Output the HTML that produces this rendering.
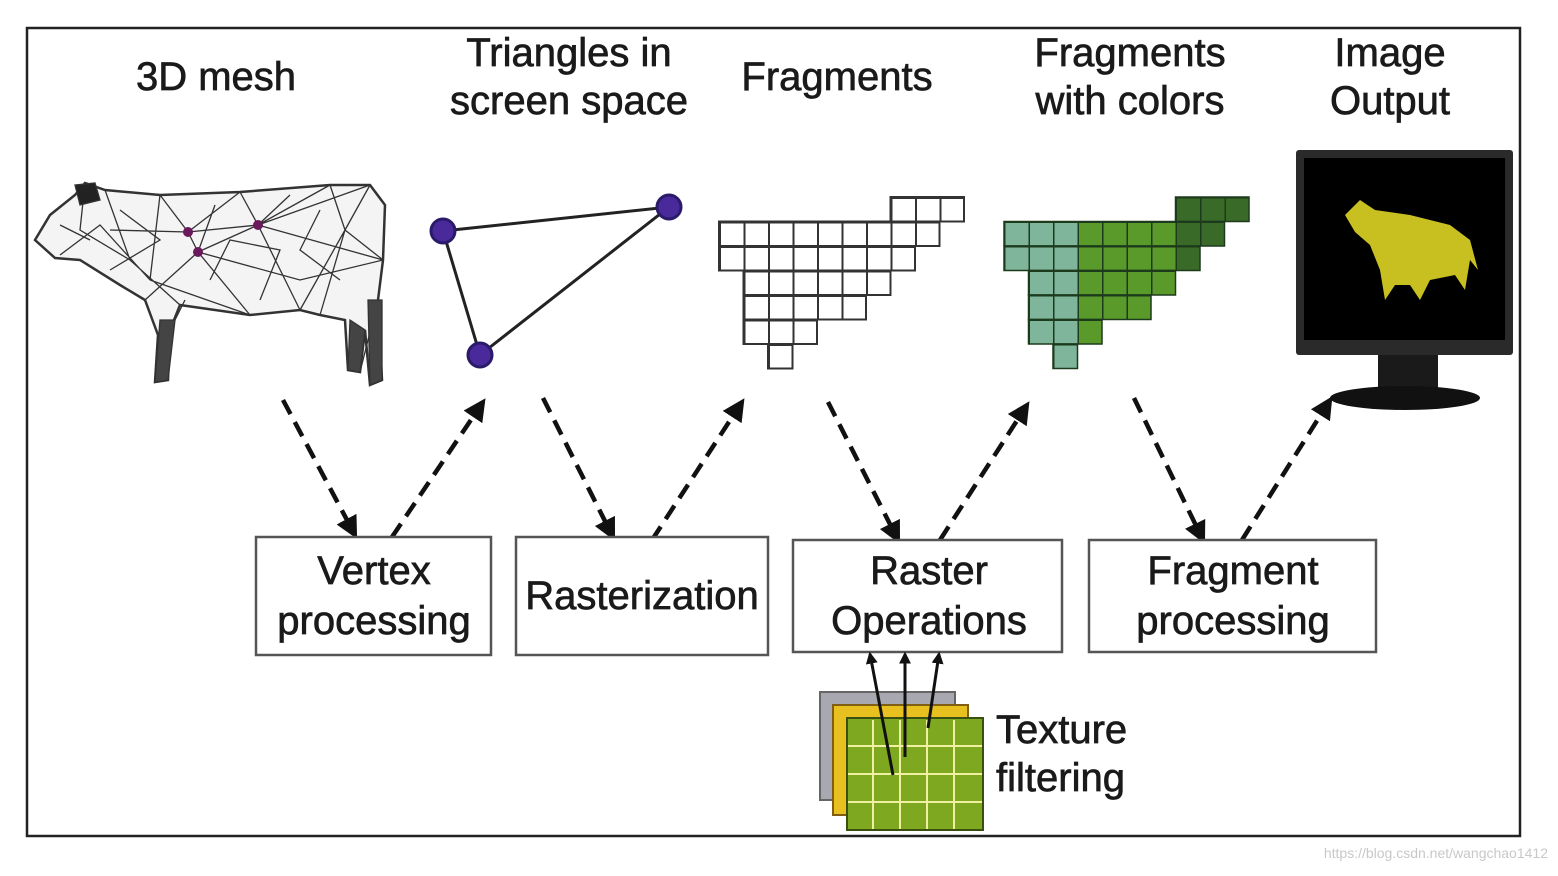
<!DOCTYPE html>
<html><head><meta charset="utf-8"><style>
html,body{margin:0;padding:0;background:#fff;}
body{width:1558px;height:871px;overflow:hidden;position:relative;font-family:"Liberation Sans",Arial,sans-serif;}
</style></head><body>
<svg width="1558" height="871" viewBox="0 0 1558 871" xmlns="http://www.w3.org/2000/svg" font-family="Liberation Sans, Arial, sans-serif">
<defs>
<marker id="ah" viewBox="0 0 10 10" refX="8" refY="5" markerWidth="5" markerHeight="5" orient="auto"><path d="M0,0 L10,5 L0,10 z" fill="#111"/></marker>
<marker id="ah2" viewBox="0 0 10 10" refX="8" refY="5" markerWidth="4" markerHeight="4" orient="auto"><path d="M0,0 L10,5 L0,10 z" fill="#111"/></marker>
<pattern id="gw" patternUnits="userSpaceOnUse" x="719" y="197" width="24.5" height="24.5"><path d="M0,0 H24.5 M0,0 V24.5" stroke="#333" stroke-width="4" fill="none"/></pattern>
<pattern id="gc" patternUnits="userSpaceOnUse" x="1004" y="197" width="24.5" height="24.5"><path d="M0,0 H24.5 M0,0 V24.5" stroke="#1d3a1d" stroke-width="3" fill="none"/></pattern>
</defs>
<rect x="27" y="28" width="1493" height="808" fill="none" stroke="#222" stroke-width="2.5"/>
<g font-size="40" fill="#1a1a1a" text-anchor="middle" stroke="#1a1a1a" stroke-width="0.7">
<text x="216" y="90">3D mesh</text>
<text x="569" y="66">Triangles in</text>
<text x="569" y="114">screen space</text>
<text x="837" y="90">Fragments</text>
<text x="1130" y="66">Fragments</text>
<text x="1130" y="114">with colors</text>
<text x="1390" y="66">Image</text>
<text x="1390" y="114">Output</text>
</g>
<!-- cow -->
<g stroke="#333" fill="none" stroke-width="1.3">
<path d="M35,240 L50,215 L75,195 L85,183 L105,190 L160,195 L240,192 L330,185 L370,185 L385,205 L383,260 L378,300 L382,380 L370,385 L365,330 L360,372 L348,370 L345,320 L320,315 L300,310 L250,315 L180,305 L170,330 L168,380 L155,382 L158,335 L145,300 L120,285 L80,260 L55,258 Z" fill="#f4f4f4" stroke-width="2.5"/>
<path d="M105,190 L130,260 L180,305 M160,195 L150,280 M240,192 L188,232 L258,225 L330,185 M188,232 L198,252 L258,225 L300,310 M198,252 L250,315 M258,225 L370,185 M258,225 L383,260 M198,252 L145,300 M188,232 L110,230 M188,232 L160,195 M240,192 L258,225 M300,310 L345,230 L370,185 M345,230 L383,260 M345,230 L320,315 M198,252 L300,280 L383,260 M130,260 L80,230 L85,183 M60,255 L100,225 L150,280 M215,205 L198,252 M290,195 L258,225 M150,280 L250,315 M330,185 L345,230 M170,330 L185,300 M360,372 L378,300 M120,210 L160,240 L110,270 M210,280 L230,240 L280,250 L260,300 M320,210 L300,250 L340,280 M60,225 L90,240"/>
<path d="M75,185 L95,183 L100,200 L80,205 Z" fill="#222"/>
<path d="M155,382 L160,320 L175,320 L168,380 Z M348,370 L350,320 L365,330 L360,372 Z M370,385 L368,300 L382,300 L382,380 Z" fill="#444"/>
</g>
<circle cx="188" cy="232" r="5" fill="#6a1a5a"/><circle cx="198" cy="252" r="5" fill="#6a1a5a"/><circle cx="258" cy="225" r="5" fill="#6a1a5a"/>
<!-- triangle -->
<g stroke="#222" stroke-width="3" fill="none"><path d="M443,231 L669,207 L480,355 Z"/></g>
<g fill="#4a2a9a" stroke="#2a1a6a" stroke-width="3"><circle cx="443" cy="231" r="12"/><circle cx="669" cy="207" r="12"/><circle cx="480" cy="355" r="12"/></g>
<!-- fragments white -->
<g fill="url(#gw)" stroke="#333" stroke-width="2">
<rect x="890.5" y="197" width="73.5" height="24.5"/>
<rect x="719" y="221.5" width="220.5" height="24.5"/>
<rect x="719" y="246" width="196" height="24.5"/>
<rect x="743.5" y="270.5" width="147" height="24.5"/>
<rect x="743.5" y="295" width="122.5" height="24.5"/>
<rect x="743.5" y="319.5" width="73.5" height="24.5"/>
<rect x="768" y="344" width="24.5" height="24.5"/>
</g>
<!-- fragments colored -->
<g stroke="none">
<rect x="1175.5" y="197" width="73.5" height="24.5" fill="#3a6a28"/>
<rect x="1004" y="221.5" width="73.5" height="24.5" fill="#7fb59a"/><rect x="1077.5" y="221.5" width="98" height="24.5" fill="#5a9a2a"/><rect x="1175.5" y="221.5" width="49" height="24.5" fill="#3a6a28"/>
<rect x="1004" y="246" width="73.5" height="24.5" fill="#7fb59a"/><rect x="1077.5" y="246" width="98" height="24.5" fill="#5a9a2a"/><rect x="1175.5" y="246" width="24.5" height="24.5" fill="#3a6a28"/>
<rect x="1028.5" y="270.5" width="49" height="24.5" fill="#7fb59a"/><rect x="1077.5" y="270.5" width="98" height="24.5" fill="#5a9a2a"/>
<rect x="1028.5" y="295" width="49" height="24.5" fill="#7fb59a"/><rect x="1077.5" y="295" width="73.5" height="24.5" fill="#5a9a2a"/>
<rect x="1028.5" y="319.5" width="49" height="24.5" fill="#7fb59a"/><rect x="1077.5" y="319.5" width="24.5" height="24.5" fill="#5a9a2a"/>
<rect x="1053" y="344" width="24.5" height="24.5" fill="#7fb59a"/>
</g>
<g fill="url(#gc)" stroke="#1d3a1d" stroke-width="1.5">
<rect x="1175.5" y="197" width="73.5" height="24.5"/>
<rect x="1004" y="221.5" width="220.5" height="24.5"/>
<rect x="1004" y="246" width="196" height="24.5"/>
<rect x="1028.5" y="270.5" width="147" height="24.5"/>
<rect x="1028.5" y="295" width="122.5" height="24.5"/>
<rect x="1028.5" y="319.5" width="73.5" height="24.5"/>
<rect x="1053" y="344" width="24.5" height="24.5"/>
</g>
<!-- monitor -->
<rect x="1296" y="150" width="217" height="205" fill="#2a2a2a" rx="3"/>
<rect x="1304" y="158" width="201" height="182" fill="#000"/>
<path d="M1345,215 L1360,200 L1375,210 L1410,215 L1450,225 L1470,240 L1478,270 L1470,260 L1465,290 L1455,275 L1430,280 L1420,300 L1410,285 L1395,285 L1385,300 L1380,270 L1370,245 L1355,232 Z" fill="#c8c020"/>
<rect x="1378" y="355" width="60" height="35" fill="#1a1a1a"/>
<ellipse cx="1405" cy="398" rx="75" ry="12" fill="#111"/>
<!-- dashed arrows -->
<g stroke="#111" stroke-width="4.5" stroke-dasharray="16,9" fill="none" marker-end="url(#ah)">
<line x1="283" y1="400" x2="355" y2="535"/>
<line x1="392" y1="537" x2="483" y2="402"/>
<line x1="543" y1="398" x2="613" y2="537"/>
<line x1="652" y1="540" x2="742" y2="402"/>
<line x1="828" y1="402" x2="898" y2="540"/>
<line x1="940" y1="540" x2="1027" y2="405"/>
<line x1="1134" y1="398" x2="1203" y2="540"/>
<line x1="1242" y1="540" x2="1330" y2="400"/>
</g>
<!-- boxes -->
<g fill="#fff" stroke="#555" stroke-width="2.5">
<rect x="256" y="537" width="235" height="118"/>
<rect x="516" y="537" width="252" height="118"/>
<rect x="793" y="540" width="269" height="112"/>
<rect x="1089" y="540" width="287" height="112"/>
</g>
<g font-size="40" fill="#1a1a1a" text-anchor="middle" stroke="#1a1a1a" stroke-width="0.7">
<text x="374" y="584">Vertex</text>
<text x="374" y="634">processing</text>
<text x="642" y="609">Rasterization</text>
<text x="929" y="584">Raster</text>
<text x="929" y="634">Operations</text>
<text x="1233" y="584">Fragment</text>
<text x="1233" y="634">processing</text>
<text x="996" y="743" text-anchor="start">Texture</text>
<text x="996" y="791" text-anchor="start">filtering</text>
</g>
<!-- texture layers -->
<rect x="820" y="692" width="135" height="108" fill="#a8a8b0" stroke="#666" stroke-width="2"/>
<rect x="833" y="705" width="135" height="110" fill="#e8c020" stroke="#806010" stroke-width="2"/>
<rect x="847" y="718" width="136" height="112" fill="#7ea820" stroke="#3a5010" stroke-width="2"/>
<g stroke="#f0f0a0" stroke-width="2">
<line x1="873" y1="720" x2="873" y2="829"/><line x1="900" y1="720" x2="900" y2="829"/><line x1="927" y1="720" x2="927" y2="829"/><line x1="954" y1="720" x2="954" y2="829"/>
<line x1="848" y1="746" x2="982" y2="746"/><line x1="848" y1="774" x2="982" y2="774"/><line x1="848" y1="802" x2="982" y2="802"/>
</g>
<g stroke="#111" stroke-width="3" marker-end="url(#ah2)">
<line x1="893" y1="775" x2="870" y2="654"/>
<line x1="905" y1="757" x2="905" y2="654"/>
<line x1="928" y1="728" x2="939" y2="654"/>
</g>
<text x="1548" y="858" font-size="14" fill="#c8c8c8" text-anchor="end">https://blog.csdn.net/wangchao1412</text>
</svg>
</body></html>
